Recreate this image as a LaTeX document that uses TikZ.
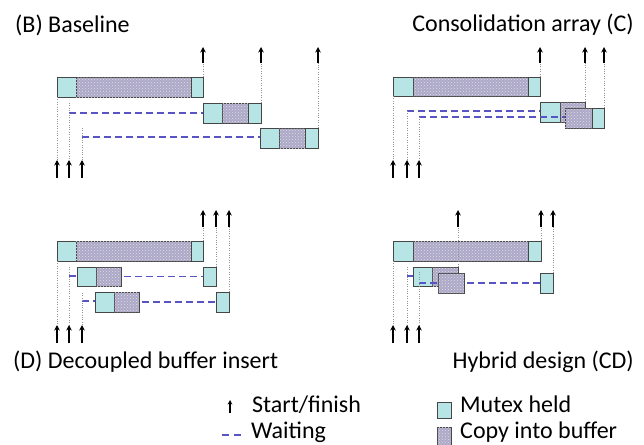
\documentclass[tikz,border=0pt]{standalone}
\usepackage{fontspec}
\setmainfont{Carlito}
\usetikzlibrary{arrows.meta,patterns}
\definecolor{mutexc}{RGB}{183,228,228}
\definecolor{copyc}{RGB}{172,168,200}
\definecolor{waitc}{RGB}{88,84,196}
\definecolor{edgec}{RGB}{70,70,70}
\tikzset{
  segbase/.style={draw=edgec, line width=0.9pt, inner sep=0pt, outer sep=0pt, anchor=north west},
  mutex/.style={segbase, fill=mutexc},
  copyb/.style={segbase, fill=copyc, postaction={pattern=crosshatch dots, pattern color=black!12}},
  waitline/.style={draw=waitc, line width=1.8pt, dash pattern=on 7pt off 4pt},
  guide/.style={draw=gray!85, line width=1pt, dash pattern=on 1pt off 1.4pt},
  tick/.style={draw=black, line width=1.4pt, -{Stealth[length=5.5pt,width=5.5pt]}},
  title/.style={font=\fontsize{24}{28}\selectfont, inner sep=0pt},
  legend/.style={font=\fontsize{24}{28}\selectfont, inner sep=0pt, anchor=base west},
}
\newcommand\seg[6]{\node[#1, minimum width={(#5-#3)*1pt}, minimum height={(#6-#4)*1pt}] (#2) at (#3,#4) {};}
\begin{document}
\begin{tikzpicture}[x=1pt,y=-1pt]
\useasboundingbox (0,0) rectangle (644,444);
%% ===== (B) Baseline =====
\node[title, anchor=base west] (tB) at (15,33) {(B) Baseline};
\seg{mutex}{b1a}{57}{77}{76}{97}
\seg{copyb}{b1b}{76}{77}{191}{97}
\seg{mutex}{b1c}{191}{77}{203}{97}
\seg{mutex}{b2a}{203}{103}{222}{123}
\seg{copyb}{b2b}{222}{103}{248}{123}
\seg{mutex}{b2c}{248}{103}{261}{123}
\seg{mutex}{b3a}{260}{128}{279}{148}
\seg{copyb}{b3b}{279}{128}{305}{148}
\seg{mutex}{b3c}{305}{128}{318}{148}
\coordinate (bs2) at (69,103); \coordinate (bw2) at (69,113);
\coordinate (bs3) at (82,128); \coordinate (bw3) at (82,137);
\draw[waitline] (bw2) -- (bw2 -| b2a.west);
\draw[waitline] (bw3) -- (bw3 -| b3a.west);
\foreach \x/\n in {57/1,69/2,82/3} {
  \coordinate (bbt\n) at (\x,160); \coordinate (bbb\n) at (\x,178);
}
\draw[guide] (b1a.south west) -- (bbt1);
\draw[guide] (bs2) -- (bbt2);
\draw[guide] (bs3) -- (bbt3);
\foreach \n in {1,2,3} \draw[tick] (bbb\n) -- (bbt\n);
\foreach \x/\n in {203/1,261/2,318/3} {
  \coordinate (btb\n) at (\x,63); \coordinate (btt\n) at (\x,47);
}
\draw[guide] (b1c.north east) -- (btb1);
\draw[guide] (b2c.north east) -- (btb2);
\draw[guide] (b3c.north east) -- (btb3);
\foreach \n in {1,2,3} \draw[tick] (btb\n) -- (btt\n);
%% ===== (C) Consolidation array =====
\node[title, anchor=base east] (tC) at (634,32) {Consolidation array (C)};
\seg{mutex}{c1a}{393}{77}{413}{96}
\seg{copyb}{c1b}{413}{77}{528}{96}
\seg{mutex}{c1c}{528}{77}{540}{96}
\seg{mutex}{c2a}{540}{102}{560}{122}
\seg{copyb}{c2b}{560}{102}{585}{122}
\coordinate (cw2) at (407,111);
\coordinate (cw3) at (419,117);
\draw[waitline] (cw2) -- (cw2 -| c2a.west);
\coordinate (c3w) at (565,117);
\draw[waitline] (cw3) -- (c3w);
\seg{copyb}{c3b}{565}{108}{592}{128}
\seg{mutex}{c3c}{592}{108}{604}{128}
\foreach \x/\n in {393/1,407/2,419/3} {
  \coordinate (cbt\n) at (\x,160); \coordinate (cbb\n) at (\x,178);
}
\draw[guide] (c1a.south west) -- (cbt1);
\draw[guide] (cw2) -- (cbt2);
\draw[guide] (cw3) -- (cbt3);
\foreach \n in {1,2,3} \draw[tick] (cbb\n) -- (cbt\n);
\foreach \x/\n in {540/1,585/2,604/3} {
  \coordinate (ctb\n) at (\x,63); \coordinate (ctt\n) at (\x,47);
}
\draw[guide] (c1c.north east) -- (ctb1);
\draw[guide] (c2b.north east) -- (ctb2);
\draw[guide] (c3c.north east) -- (ctb3);
\foreach \n in {1,2,3} \draw[tick] (ctb\n) -- (ctt\n);
%% ===== (D) Decoupled buffer insert =====
\node[title, anchor=base west] (tD) at (13,368) {(D) Decoupled buffer insert};
\seg{mutex}{d1a}{57}{241}{76}{261}
\seg{copyb}{d1b}{76}{241}{191}{261}
\seg{mutex}{d1c}{191}{241}{203}{261}
\seg{mutex}{d2a}{77}{267}{96}{286}
\seg{copyb}{d2b}{96}{267}{121}{286}
\seg{mutex}{d2c}{203}{267}{216}{286}
\seg{mutex}{d3a}{95}{292}{114}{312}
\seg{copyb}{d3b}{114}{292}{139}{312}
\seg{mutex}{d3c}{216}{292}{229}{312}
\coordinate (ds2) at (69,267); \coordinate (dw2) at (69,276);
\coordinate (ds3) at (82,293); \coordinate (dw3) at (82,301);
\draw[waitline] (dw2) -- (dw2 -| d2a.west);
\draw[waitline] ([xshift=3pt]d2b.east) -- (d2c.west);
\draw[waitline] (dw3) -- (dw3 -| d3a.west);
\draw[waitline] ([xshift=3pt]d3b.east) -- (d3c.west);
\foreach \x/\n in {57/1,69/2,82/3} {
  \coordinate (dbt\n) at (\x,325); \coordinate (dbb\n) at (\x,343);
}
\draw[guide] (d1a.south west) -- (dbt1);
\draw[guide] (ds2) -- (dbt2);
\draw[guide] (ds3) -- (dbt3);
\foreach \n in {1,2,3} \draw[tick] (dbb\n) -- (dbt\n);
\foreach \x/\n in {203/1,216/2,229/3} {
  \coordinate (dtb\n) at (\x,227); \coordinate (dtt\n) at (\x,210);
}
\draw[guide] (d1c.north east) -- (dtb1);
\draw[guide] (d2c.north east) -- (dtb2);
\draw[guide] (d3c.north east) -- (dtb3);
\foreach \n in {1,2,3} \draw[tick] (dtb\n) -- (dtt\n);
%% ===== (CD) Hybrid design =====
\node[title, anchor=base east] (tCD) at (634,368) {Hybrid design (CD)};
\seg{mutex}{e1a}{393}{241}{413}{261}
\seg{copyb}{e1b}{413}{241}{528}{261}
\seg{mutex}{e1c}{528}{241}{541}{261}
\seg{mutex}{e2a}{413}{267}{432}{286}
\seg{copyb}{e2b}{432}{267}{458}{286}
\coordinate (es2) at (407,267); \coordinate (ew2) at (407,276);
\coordinate (es3) at (419,272); \coordinate (ew3) at (419,283);
\draw[waitline] (ew2) -- (ew2 -| e2a.west);
\coordinate (e3w) at (438,283);
\draw[waitline] (ew3) -- (e3w);
\seg{copyb}{e3b}{438}{273}{464}{293}
\seg{mutex}{e3c}{540}{273}{553}{293}
\draw[waitline] ([xshift=3pt]e3b.east) -- (e3c.west);
\foreach \x/\n in {393/1,407/2,419/3} {
  \coordinate (ebt\n) at (\x,325); \coordinate (ebb\n) at (\x,343);
}
\draw[guide] (e1a.south west) -- (ebt1);
\draw[guide] (es2) -- (ebt2);
\draw[guide] (es3) -- (ebt3);
\foreach \n in {1,2,3} \draw[tick] (ebb\n) -- (ebt\n);
\coordinate (etb1) at (458,227); \coordinate (ett1) at (458,210);
\coordinate (etb2) at (541,227); \coordinate (ett2) at (541,210);
\coordinate (etb3) at (553,227); \coordinate (ett3) at (553,210);
\draw[guide] (e2b.north east) -- (etb1);
\draw[guide] (e1c.north east) -- (etb2);
\draw[guide] (e3c.north east) -- (etb3);
\foreach \n in {1,2,3} \draw[tick] (etb\n) -- (ett\n);
%% ===== Legend =====
\coordinate (la1) at (230,413); \coordinate (la2) at (230,400);
\draw[draw=black, line width=1.2pt, -{Stealth[length=4.5pt,width=4.5pt]}] (la1) -- (la2);
\node[legend] (lsf) at (252,412) {Start/finish};
\coordinate (lw1) at (222,435); \coordinate (lw2) at (243,435);
\draw[draw=waitc, line width=1.5pt, dash pattern=on 7pt off 5pt] (lw1) -- (lw2);
\node[legend] (lwt) at (251,438) {Waiting};
\seg{mutex}{lm}{437}{402}{451}{418}
\node[legend] (lmt) at (460,412) {Mutex held};
\seg{copyb}{lc}{437}{427}{451}{446}
\node[legend] (lct) at (460,438) {Copy into buffer};
\end{tikzpicture}
\end{document}
